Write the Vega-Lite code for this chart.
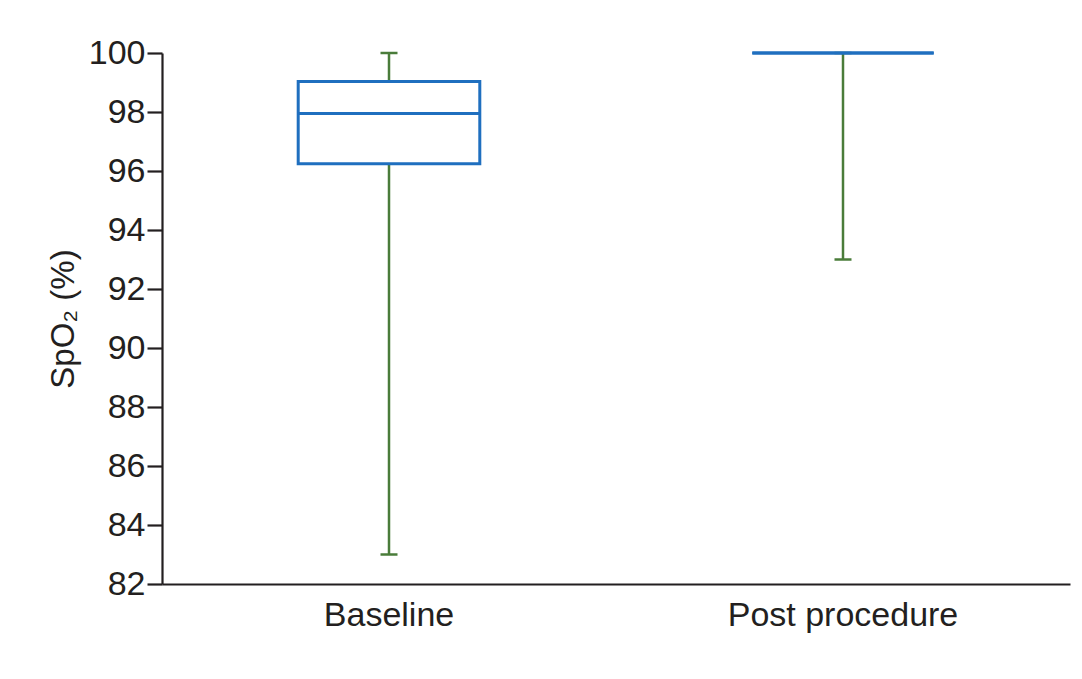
{
  "$schema": "https://vega.github.io/schema/vega-lite/v6.json",
  "autosize": {"type": "none"},
  "width": 908,
  "height": 531,
  "padding": {"left": 162, "top": 53, "right": 12, "bottom": 95},
  "background": "white",
  "config": {
    "view": {"stroke": null},
    "font": "Liberation Sans",
    "tick": {"opacity": 1},
    "axis": {
      "grid": false,
      "domainColor": "#231f20",
      "domainWidth": 2.2,
      "tickColor": "#231f20",
      "tickWidth": 2.2,
      "labelColor": "#231f20",
      "titleColor": "#231f20",
      "labelFont": "Liberation Sans",
      "titleFont": "Liberation Sans",
      "labelFontSize": 34,
      "titleFontSize": 33,
      "titleFontWeight": "normal",
      "labelLimit": 0
    }
  },
  "data": {
    "values": [
      {"group": "Baseline", "min": 83, "q1": 96.25, "median": 97.95, "q3": 99.03, "max": 100},
      {"group": "Post procedure", "min": 93, "q1": 100, "median": 100, "q3": 100, "max": 100}
    ]
  },
  "encoding": {
    "x": {
      "field": "group",
      "type": "nominal",
      "sort": ["Baseline", "Post procedure"],
      "scale": {"paddingInner": 0, "paddingOuter": 0},
      "axis": {"title": null, "labelAngle": 0, "ticks": false, "labelPadding": 14}
    }
  },
  "layer": [
    {
      "mark": {"type": "rule", "color": "#4a7c3a", "strokeWidth": 2.5},
      "encoding": {
        "y": {
          "field": "min",
          "type": "quantitative",
          "scale": {"domain": [82, 100], "nice": false, "zero": false},
          "axis": {"title": "SpO₂ (%)", "values": [82, 84, 86, 88, 90, 92, 94, 96, 98, 100], "tickSize": 15, "labelPadding": 2, "titlePadding": 8}
        },
        "y2": {"field": "max"}
      }
    },
    {
      "mark": {"type": "tick", "color": "#4a7c3a", "thickness": 2.5, "size": 17, "opacity": 1},
      "encoding": {"y": {"field": "min", "type": "quantitative"}}
    },
    {
      "mark": {"type": "tick", "color": "#4a7c3a", "thickness": 2.5, "size": 17, "opacity": 1},
      "encoding": {"y": {"field": "max", "type": "quantitative"}}
    },
    {
      "mark": {"type": "bar", "fill": "white", "stroke": "#1f6fbf", "strokeWidth": 3, "width": {"band": 0.4}},
      "encoding": {
        "y": {"field": "q1", "type": "quantitative"},
        "y2": {"field": "q3"}
      }
    },
    {
      "mark": {"type": "tick", "color": "#1f6fbf", "thickness": 3, "size": 181, "opacity": 1},
      "encoding": {"y": {"field": "median", "type": "quantitative"}}
    }
  ]
}
